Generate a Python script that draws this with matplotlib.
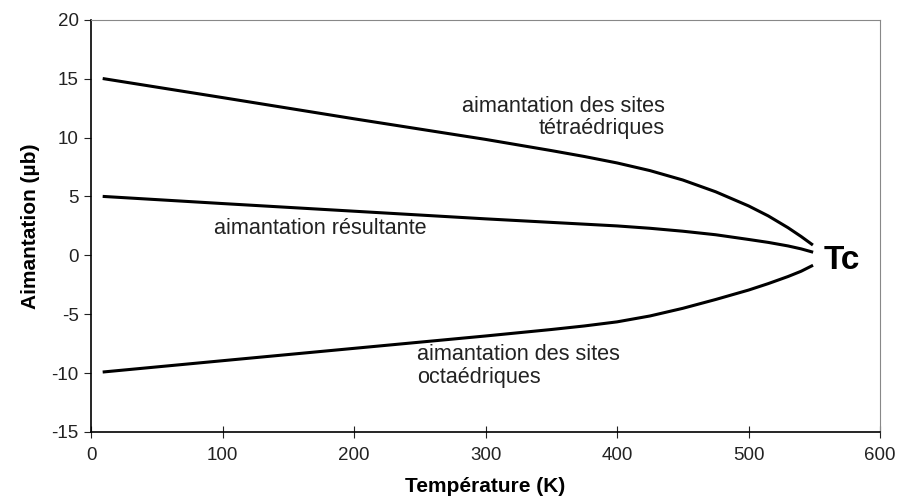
import numpy as np
import matplotlib.pyplot as plt

plt.rcParams['font.family'] = ['Liberation Sans', 'DejaVu Sans']
plt.rcParams['axes.unicode_minus'] = False

# temperature (K) and magnetisation (ub)
temp = [10, 100, 200, 300, 350, 375, 400, 425, 450, 475, 500, 515, 530, 540, 548]
tetra = [15.0, 13.4, 11.6, 9.85, 8.9, 8.4, 7.85, 7.2, 6.4, 5.4, 4.2, 3.35, 2.35, 1.6, 0.95]
octa = [-9.9, -8.95, -7.9, -6.85, -6.3, -6.0, -5.65, -5.15, -4.5, -3.75, -2.95, -2.4, -1.8, -1.35, -0.9]
result = [5.0, 4.4, 3.75, 3.1, 2.8, 2.65, 2.5, 2.3, 2.05, 1.75, 1.35, 1.1, 0.8, 0.55, 0.3]

xticks = [0, 100, 200, 300, 400, 500, 600]
yticks = [-15, -10, -5, 0, 5, 10, 15, 20]

fig = plt.figure(figsize=(8.97, 5.04), dpi=100)
ax = fig.add_axes([0.1015, 0.143, 0.8796, 0.8175])

for s in [tetra, octa, result]:
    ax.plot(temp, s, color='black', lw=2.2, solid_joinstyle='round')

ax.set_xlim(0, 600)
ax.set_ylim(-15, 20)
ax.set_xticks(xticks)
ax.set_yticks(yticks)
ax.tick_params(axis='x', direction='inout', length=9, labelsize=13.5, pad=6, colors='#222222')
ax.tick_params(axis='y', direction='out', length=5, labelsize=13.5, pad=4, colors='#222222')
ax.spines['top'].set_color('#888888')
ax.spines['right'].set_color('#888888')
ax.spines['left'].set_linewidth(1.2)
ax.spines['bottom'].set_linewidth(1.2)

ax.set_xlabel('Température (K)', fontsize=15, fontweight='bold', labelpad=10)
ax.set_ylabel('Aimantation (µb)', fontsize=15, fontweight='bold', labelpad=8)

ax.text(436.5, 11.7, 'aimantation des sites\ntétraédriques', ha='right', va='center',
        fontsize=15.6, color='#222222', linespacing=1.1)
ax.text(174, 2.3, 'aimantation résultante', ha='center', va='center',
        fontsize=15.6, color='#222222')
ax.text(248, -9.4, 'aimantation des sites\noctaédriques', ha='left', va='center',
        fontsize=15.6, color='#222222', linespacing=1.1)
ax.text(571, -0.4, 'Tc', ha='center', va='center', fontsize=24, fontweight='bold')

fig.savefig('out.png', dpi=100)
